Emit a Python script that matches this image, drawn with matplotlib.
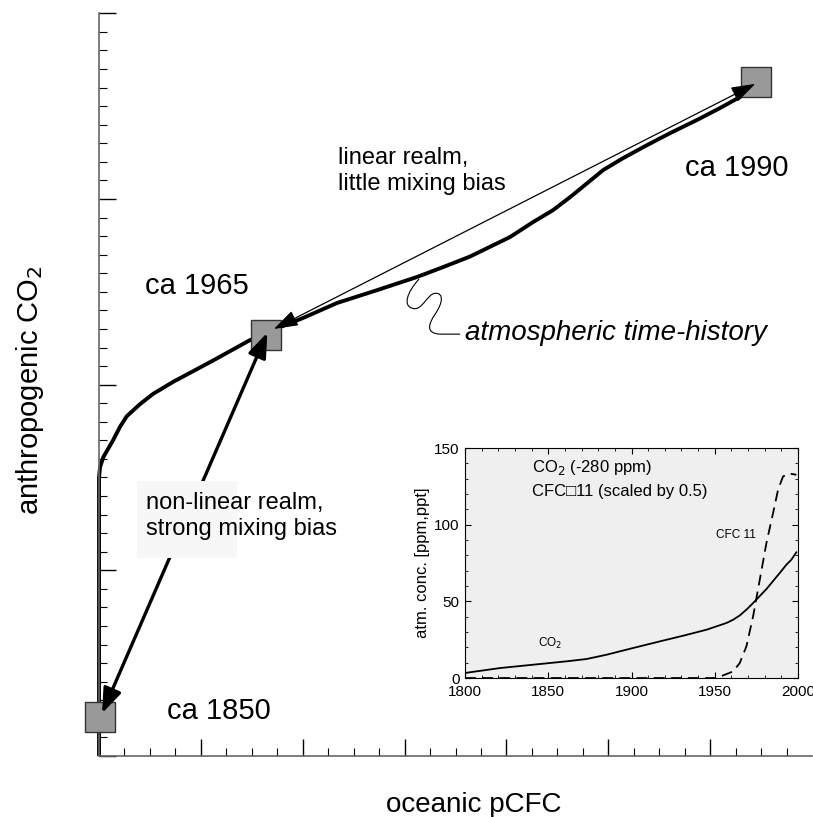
import matplotlib.pyplot as plt
from matplotlib.path import Path
from matplotlib.patches import PathPatch, Rectangle, FancyArrowPatch
import numpy as np

plt.rcParams['font.family'] = ['Liberation Sans', 'DejaVu Sans']

# main panel: oceanic pCFC vs anthropogenic CO2 (arbitrary units)
pcfc = [0, 0, 0.04, 0.17, 0.55, 0.82, 1.09, 1.61, 2.12, 2.91, 4.48, 5.93, 6.56, 7.11,
        8.01, 9.35, 10.92, 12.49, 13.51, 14.57, 16.14, 17.05, 17.83, 18.5, 19.17,
        19.8, 20.58, 21.52, 22.43, 23.49, 24.39, 25.18, 25.37]
co2 = [0, 15.0, 15.56, 16.1, 17.0, 17.72, 18.3, 18.95, 19.5, 20.15, 21.3, 22.4, 22.7, 23.1,
       23.59, 24.4, 25.09, 25.8, 26.33, 26.9, 27.95, 28.76, 29.4, 30.1, 30.85,
       31.56, 32.2, 32.9, 33.55, 34.26, 34.9, 35.5, 35.85]

year_labels = ['ca 1850', 'ca 1965', 'ca 1990']
year_pcfc = [0.04, 6.56, 25.8]
year_co2 = [2.1, 22.7, 36.3]

# inset: atmospheric histories
years_co2 = [1800, 1821, 1841, 1861, 1873, 1885, 1901, 1917, 1931, 1945, 1957, 1961, 1965,
             1969, 1973, 1981, 1989, 1993, 1996, 1999]
co2_atm = [3.3, 6.5, 8.7, 10.9, 12.4, 15.2, 19.6, 23.9, 27.6, 31.5, 35.9, 38.0, 40.8,
           44.6, 48.9, 58, 68.5, 73.9, 77.2, 82]
years_cfc = [1800, 1951, 1961, 1965, 1969, 1973, 1977, 1981, 1985, 1988, 1991, 1995, 1999]
cfc11 = [0, 0, 4.3, 9.8, 20.7, 40.2, 64, 88, 107.6, 122.8, 131.5, 133.3, 132.6]

fig = plt.figure(figsize=(8.13, 8.17), dpi=100)
ax = fig.add_axes([0.1218, 0.0747, 0.877, 0.909])

ax.plot(pcfc, co2, color='black', lw=2.8, solid_capstyle='butt', solid_joinstyle='round',
        zorder=2, clip_on=False)
ax.plot(year_pcfc, year_co2, 's', ms=22, mfc='#999999', mec='#333333', mew=1,
        zorder=3, clip_on=False)

# arrows between the time markers
a1 = FancyArrowPatch((year_pcfc[1] + 0.05, year_co2[1] + 0.1), (0.12, 2.3),
                     arrowstyle='<|-|>,head_length=0.75,head_width=0.28',
                     mutation_scale=20, lw=2.4, color='black',
                     shrinkA=0, shrinkB=0, zorder=4)
ax.add_patch(a1)
a2 = FancyArrowPatch((6.87, 23.0), (25.77, 36.2),
                     arrowstyle='<|-|>,head_length=0.75,head_width=0.25',
                     mutation_scale=20, lw=0.9, color='black',
                     shrinkA=0, shrinkB=0, zorder=4)
ax.add_patch(a2)

# light box behind the non-linear label
ax.add_patch(Rectangle((1.49, 10.66), 3.93, 4.15, facecolor='#f7f7f7',
                       edgecolor='none', zorder=5))

# squiggle pointing at the curve
verts = [(12.57, 25.69),
         (12.1, 25.0), (11.9, 24.2), (12.35, 24.1),
         (12.7, 24.0), (12.9, 24.9), (13.2, 24.92),
         (13.55, 24.95), (13.5, 24.4), (13.2, 23.8),
         (12.95, 23.3), (12.8, 22.75), (13.4, 22.72),
         (14.18, 22.72)]
codes = [Path.MOVETO] + [Path.CURVE4] * 12 + [Path.LINETO]
ax.add_patch(PathPatch(Path(verts, codes), facecolor='none', edgecolor='black',
                       lw=0.8, zorder=4))

ax.text(14.37, 22.78, 'atmospheric time-history', fontsize=20, style='italic',
        ha='left', va='center', zorder=6)
ax.text(9.39, 31.5, 'linear realm,\nlittle mixing bias', fontsize=17,
        ha='left', va='center', linespacing=1.25, zorder=6)
ax.text(1.85, 12.92, 'non-linear realm,\nstrong mixing bias', fontsize=17,
        ha='left', va='center', linespacing=1.25, zorder=6)
ax.text(2.67, 2.42, year_labels[0], fontsize=21, ha='left', va='center', zorder=6)
ax.text(1.81, 25.31, year_labels[1], fontsize=21, ha='left', va='center', zorder=6)
ax.text(23.02, 31.66, year_labels[2], fontsize=21, ha='left', va='center', zorder=6)

ax.set_xlim(0, 28)
ax.set_ylim(0, 40)
ax.set_xticks(np.arange(0, 28, 4))
ax.set_xticks(np.arange(0, 28, 1), minor=True)
ax.set_yticks(np.arange(0, 41, 10))
ax.set_yticks(np.arange(0, 41, 1), minor=True)
ax.tick_params(which='major', direction='in', length=12, width=1,
               labelleft=False, labelbottom=False)
ax.tick_params(which='minor', direction='in', length=6, width=0.8)
for s in ['top', 'right']:
    ax.spines[s].set_visible(False)
for s in ['left', 'bottom']:
    ax.spines[s].set_color('#666666')
    ax.spines[s].set_linewidth(1.2)

fig.text(474 / 813, 1 - 805 / 817, 'oceanic pCFC', fontsize=20, ha='center', va='center')
fig.text(30 / 813, 1 - 390 / 817, 'anthropogenic CO$_2$', fontsize=21, rotation=90,
         ha='center', va='center')

# inset
ax2 = fig.add_axes([0.572, 0.1701, 0.4096, 0.2815])
ax2.set_facecolor('#efefef')
ax2.plot(years_co2, co2_atm, color='black', lw=1.3)
ax2.plot(years_cfc, cfc11, color='black', lw=1.3, ls=(0, (6, 3.5)))
ax2.set_xlim(1800, 2000)
ax2.set_ylim(0, 150)
ax2.set_xticks(np.arange(1800, 2001, 50))
ax2.set_xticks(np.arange(1800, 2001, 10), minor=True)
ax2.set_yticks(np.arange(0, 151, 50))
ax2.set_yticks(np.arange(0, 151, 10), minor=True)
ax2.tick_params(which='both', direction='in', top=True, right=True, labelsize=11)
ax2.tick_params(axis='x', pad=5)
ax2.tick_params(axis='y', pad=4)
ax2.tick_params(which='major', length=4)
ax2.tick_params(which='minor', length=2)
for s in ax2.spines.values():
    s.set_linewidth(0.8)
ax2.set_ylabel('atm. conc. [ppm,ppt]', fontsize=12, labelpad=3)
ax2.text(1840, 137, 'CO$_2$ (-280 ppm)', fontsize=12, ha='left', va='center')
ax2.text(1840, 121.7, 'CFC\u25a111 (scaled by 0.5)', fontsize=12, ha='left', va='center')
ax2.text(1951, 93.5, 'CFC 11', fontsize=8.5, ha='left', va='center')
ax2.text(1844, 22.8, 'CO$_2$', fontsize=8.5, ha='left', va='center')

fig.savefig('out.png', dpi=100)
